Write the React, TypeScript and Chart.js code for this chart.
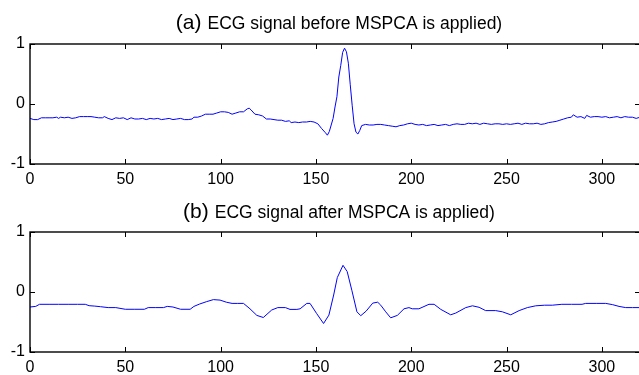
import React, { useEffect, useRef } from "react";
import { Chart, registerables } from "chart.js";

Chart.register(...registerables);

// ---------- data ----------
const titleA_label = "(a)";
const titleA_text = "ECG signal before MSPCA is applied)";
const titleB_label = "(b)";
const titleB_text = "ECG signal after MSPCA is applied)";

const xTicks = [0, 50, 100, 150, 200, 250, 300];
const yTicks = [-1, 0, 1];

const beforeX = [
  0, 2, 4, 6, 8, 10, 12, 14, 15, 16, 18, 20, 22, 24, 26, 28, 30, 32, 34, 36, 38, 39, 41, 43, 45, 47, 49,
  51, 53, 55, 57, 59, 61, 63, 65, 67, 69, 71, 73, 75, 77, 79, 81, 83, 85, 86, 88, 90, 92, 94, 96, 98,
  100, 102, 104, 106, 108, 110, 112, 114, 115, 116, 118, 120, 122, 124, 126, 128, 130, 132, 134, 136,
  137, 139, 141, 143, 145, 147, 149, 151, 153, 155, 156, 157, 158, 159, 160, 161, 162, 163, 164, 165,
  166, 167, 168, 169, 170, 171, 172, 173, 174, 176, 178, 180, 182, 184, 186, 188, 190, 192, 194, 196,
  198, 200, 202, 204, 206, 208, 210, 212, 214, 216, 218, 220, 222, 224, 226, 228, 230, 232, 234, 236,
  238, 240, 242, 244, 246, 248, 250, 252, 254, 256, 258, 260, 262, 264, 266, 268, 270, 272, 274, 276,
  278, 280, 282, 284, 285, 287, 289, 291, 292, 294, 296, 298, 300, 302, 304, 306, 308, 310, 312, 314,
  316, 318, 320,
];
const beforeY = [
  -0.24, -0.26, -0.26, -0.23, -0.23, -0.23, -0.23, -0.22, -0.24, -0.22, -0.23, -0.22, -0.24, -0.23,
  -0.21, -0.21, -0.21, -0.21, -0.22, -0.23, -0.23, -0.21, -0.24, -0.26, -0.23, -0.24, -0.23, -0.26,
  -0.23, -0.25, -0.25, -0.24, -0.26, -0.24, -0.25, -0.24, -0.26, -0.25, -0.24, -0.26, -0.25, -0.24,
  -0.26, -0.26, -0.25, -0.22, -0.22, -0.2, -0.17, -0.17, -0.17, -0.15, -0.13, -0.13, -0.14, -0.17,
  -0.15, -0.13, -0.13, -0.08, -0.07, -0.1, -0.17, -0.18, -0.2, -0.25, -0.25, -0.26, -0.27, -0.27,
  -0.29, -0.28, -0.31, -0.3, -0.31, -0.3, -0.3, -0.29, -0.3, -0.33, -0.41, -0.48, -0.52, -0.46, -0.35,
  -0.24, -0.05, 0.12, 0.45, 0.64, 0.86, 0.93, 0.87, 0.68, 0.32, -0.02, -0.33, -0.47, -0.5, -0.44,
  -0.36, -0.34, -0.35, -0.35, -0.34, -0.34, -0.35, -0.36, -0.37, -0.38, -0.36, -0.35, -0.33, -0.32,
  -0.34, -0.35, -0.34, -0.36, -0.35, -0.34, -0.36, -0.35, -0.34, -0.36, -0.34, -0.33, -0.34, -0.34,
  -0.32, -0.33, -0.32, -0.34, -0.32, -0.33, -0.34, -0.33, -0.33, -0.34, -0.33, -0.34, -0.33, -0.32,
  -0.34, -0.32, -0.33, -0.33, -0.32, -0.34, -0.33, -0.31, -0.3, -0.29, -0.27, -0.25, -0.23, -0.22,
  -0.18, -0.22, -0.21, -0.24, -0.19, -0.22, -0.21, -0.21, -0.22, -0.21, -0.23, -0.22, -0.21, -0.23,
  -0.21, -0.22, -0.22, -0.24, -0.22,
];

const afterX = [
  0, 3, 5, 10, 15, 20, 25, 29, 31, 34, 37, 41, 45, 50, 55, 60, 62, 66, 70, 72, 75, 79, 84, 86, 89,
  92.7, 96.2, 99.7, 103, 106, 109, 112, 115.4, 119, 122.4, 126.8, 130, 134, 136.4, 140, 141.7, 145.2,
  146.9, 150.4, 154, 156.8, 159.3, 161.2, 164.2, 166.4, 168.9, 171.5, 173.5, 176.3, 179.8, 182.4, 184,
  186.6, 189.2, 192.7, 196.2, 198.8, 200.5, 204, 209.3, 212, 215.5, 220.7, 223.4, 228.6, 232.1, 235.6,
  239, 244.3, 247.8, 252.2, 256.6, 260.9, 265.3, 270, 274, 279, 284, 289.6, 291.5, 297, 302, 305.5,
  309, 312.5, 316, 320,
];
const afterY = [
  -0.25, -0.24, -0.205, -0.205, -0.205, -0.205, -0.205, -0.205, -0.228, -0.235, -0.245, -0.26, -0.26,
  -0.288, -0.288, -0.288, -0.26, -0.26, -0.26, -0.24, -0.25, -0.288, -0.288, -0.24, -0.2, -0.16,
  -0.127, -0.135, -0.17, -0.19, -0.19, -0.19, -0.28, -0.39, -0.425, -0.3, -0.26, -0.26, -0.29, -0.29,
  -0.28, -0.19, -0.19, -0.36, -0.525, -0.385, -0.05, 0.24, 0.445, 0.34, 0.02, -0.33, -0.395, -0.32,
  -0.185, -0.17, -0.22, -0.33, -0.43, -0.39, -0.28, -0.26, -0.28, -0.28, -0.205, -0.205, -0.29, -0.38,
  -0.35, -0.26, -0.23, -0.255, -0.31, -0.31, -0.33, -0.38, -0.31, -0.26, -0.23, -0.22, -0.22, -0.205,
  -0.205, -0.205, -0.19, -0.19, -0.19, -0.21, -0.24, -0.26, -0.26, -0.26,
];

// ---------- plugins ----------
const matlabBox = {
  id: "matlabBox",
  afterDatasetsDraw(chart: any) {
    const { ctx, chartArea, scales } = chart;
    const { left, right, top, bottom } = chartArea;
    const xs = scales.x;
    const ys = scales.y;
    const tl = 5;
    ctx.save();
    ctx.strokeStyle = "#000";
    ctx.lineWidth = 1;
    ctx.beginPath();
    xs.ticks.forEach((t: any) => {
      const px = Math.round(xs.getPixelForValue(t.value)) + 0.5;
      ctx.moveTo(px, bottom);
      ctx.lineTo(px, bottom - tl);
      ctx.moveTo(px, top);
      ctx.lineTo(px, top + tl);
    });
    ys.ticks.forEach((t: any) => {
      const py = Math.round(ys.getPixelForValue(t.value)) + 0.5;
      ctx.moveTo(left, py);
      ctx.lineTo(left + tl, py);
      ctx.moveTo(right, py);
      ctx.lineTo(right - tl, py);
    });
    ctx.stroke();
    ctx.lineWidth = 1.4;
    ctx.strokeRect(left, top, right - left, bottom - top);
    ctx.restore();
  },
};

const matlabTitle = {
  id: "matlabTitle",
  afterDraw(chart: any, _args: any, opts: any) {
    const { ctx } = chart;
    ctx.save();
    ctx.fillStyle = "#000";
    ctx.textBaseline = "alphabetic";
    ctx.textAlign = "left";
    const bigFont = "21px Arial, 'Liberation Sans', sans-serif";
    const smallFont = "17.5px Arial, 'Liberation Sans', sans-serif";
    ctx.font = bigFont;
    const w1 = ctx.measureText(opts.label).width;
    ctx.font = smallFont;
    const w2 = ctx.measureText(opts.text).width;
    const gap = 6;
    const total = w1 + gap + w2;
    const x0 = opts.center - total / 2;
    ctx.font = bigFont;
    ctx.fillText(opts.label, x0, opts.baseline + 0.5);
    ctx.font = smallFont;
    ctx.fillText(opts.text, x0 + w1 + gap, opts.baseline);
    ctx.restore();
  },
};

function makeConfig(xsArr: number[], ysArr: number[], label: string, text: string, padTop: number, baseline: number, axisH: number) {
  return {
    type: "line" as const,
    data: {
      datasets: [
        {
          data: xsArr.map((x, i) => ({ x, y: ysArr[i] })),
          borderColor: "#0000ff",
          borderWidth: 1,
          pointRadius: 0,
          tension: 0,
          fill: false,
        },
      ],
    },
    options: {
      responsive: false,
      animation: false as const,
      events: [],
      layout: { padding: { top: padTop, right: 5, left: 0, bottom: 0 } },
      plugins: {
        legend: { display: false },
        tooltip: { enabled: false },
        title: { display: false },
        matlabTitle: { label, text, center: 339, baseline },
      },
      scales: {
        x: {
          type: "linear" as const,
          min: 0,
          max: 320,
          afterBuildTicks: (s: any) => {
            s.ticks = xTicks.map((v) => ({ value: v }));
          },
          afterFit: (s: any) => {
            s.height = axisH;
          },
          grid: { display: false, drawTicks: false },
          border: { display: false },
          ticks: {
            padding: 6,
            autoSkip: false,
            maxRotation: 0,
            color: "#000",
            font: { family: "Arial, 'Liberation Sans', sans-serif", size: 16 },
          },
        },
        y: {
          type: "linear" as const,
          min: -1,
          max: 1,
          afterBuildTicks: (s: any) => {
            s.ticks = yTicks.map((v) => ({ value: v }));
          },
          afterFit: (s: any) => {
            s.width = 30;
          },
          grid: { display: false, drawTicks: false },
          border: { display: false },
          ticks: {
            padding: 5,
            color: "#000",
            font: { family: "Arial, 'Liberation Sans', sans-serif", size: 16 },
          },
        },
      },
    },
    plugins: [matlabBox, matlabTitle],
  };
}

export default function App() {
  const topRef = useRef<HTMLCanvasElement>(null);
  const botRef = useRef<HTMLCanvasElement>(null);

  useEffect(() => {
    const c1 = new Chart(topRef.current as HTMLCanvasElement, makeConfig(beforeX, beforeY, titleA_label, titleA_text, 44, 28.5, 36) as any);
    const c2 = new Chart(botRef.current as HTMLCanvasElement, makeConfig(afterX, afterY, titleB_label, titleB_text, 45, 30.5, 23) as any);
    return () => {
      c1.destroy();
      c2.destroy();
    };
  }, []);

  return (
    <div style={{ position: "fixed", left: 0, top: 0, width: 639, height: 375, overflow: "hidden", background: "#fff" }}>
      <canvas ref={topRef} width={645} height={200} style={{ position: "absolute", left: 0, top: 0, display: "block" }} />
      <canvas ref={botRef} width={645} height={188} style={{ position: "absolute", left: 0, top: 187, display: "block" }} />
    </div>
  );
}
